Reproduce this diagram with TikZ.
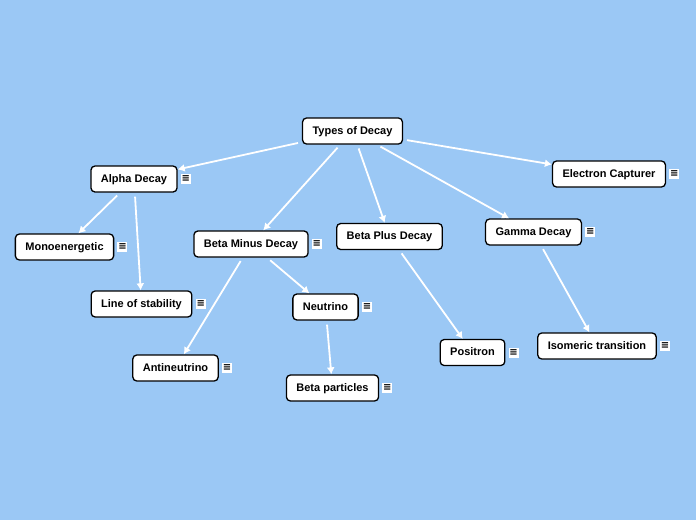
\documentclass[tikz,border=0pt]{standalone}
\usepackage{fontspec}
\setmainfont{Liberation Sans}
\newfontfamily\symfont{DejaVu Sans}
\usetikzlibrary{arrows.meta, positioning, shapes}

\definecolor{skyblue}{RGB}{155,200,245}

\begin{document}
\begin{tikzpicture}[x=1pt, y=-1pt,
    topic/.style={rectangle, draw=black, line width=1.3pt, rounded corners=4pt, fill=white, minimum height=26pt, inner xsep=10pt, text height=8pt, text depth=2pt, font=\fontsize{11}{13}\selectfont\bfseries},
    notemark/.style={rectangle, fill=white, minimum size=10pt, inner sep=0pt, font=\symfont\bfseries\fontsize{10}{10}\selectfont, right=3pt of #1},
    arrow/.style={-{Latex[length=7pt, width=8pt]}, draw=white, line width=1.8pt, shorten <=4pt}
]

% ==== Background ====
\fill[skyblue] (0,0) rectangle (696,520);

% ==== Central topic ====
\node[topic] (types) at (352.5,131) {Types of Decay};

% ==== Main branches ====
\node[topic] (alpha) at (134,179) {Alpha Decay};
\node[topic] (betaminus) at (251,244) {Beta Minus Decay};
\node[topic] (betaplus) at (389.5,236.5) {Beta Plus Decay};
\node[topic] (gamma) at (533.5,232) {Gamma Decay};
\node[topic] (capture) at (609,174) {Electron Capturer};

% ==== Sub topics ====
\node[topic] (mono) at (64.5,247) {Monoenergetic};
\node[topic] (stability) at (141.5,304) {Line of stability};
\node[topic] (antineutrino) at (175.5,368) {Antineutrino};
\node[topic] (neutrino) at (325.5,307) {Neutrino};
\node[topic] (betapart) at (332.5,388) {Beta particles};
\node[topic] (positron) at (472.5,352.5) {Positron};
\node[topic] (isomeric) at (597,346) {Isomeric transition};

% ==== Note markers ====
\node[notemark=alpha] (alpha-note) {≡};
\node[notemark=capture] (capture-note) {≡};
\node[notemark=mono] (mono-note) {≡};
\node[notemark=betaminus] (betaminus-note) {≡};
\node[notemark=gamma] (gamma-note) {≡};
\node[notemark=stability] (stability-note) {≡};
\node[notemark=neutrino] (neutrino-note) {≡};
\node[notemark=antineutrino] (antineutrino-note) {≡};
\node[notemark=positron] (positron-note) {≡};
\node[notemark=isomeric] (isomeric-note) {≡};
\node[notemark=betapart] (betapart-note) {≡};

% ==== Arrows ====
\draw[arrow] (types) -- (alpha);
\draw[arrow] (types) -- (betaminus);
\draw[arrow] (types) -- (betaplus);
\draw[arrow] (types) -- (gamma);
\draw[arrow] (types) -- (capture);

\draw[arrow] (alpha) -- (mono);
\draw[arrow] (alpha) -- (stability);
\draw[arrow] (betaminus) -- (antineutrino);
\draw[arrow] (betaminus) -- (neutrino);
\draw[arrow] (neutrino) -- (betapart);
\draw[arrow] (betaplus) -- (positron);
\draw[arrow] (gamma) -- (isomeric);

\end{tikzpicture}
\end{document}
